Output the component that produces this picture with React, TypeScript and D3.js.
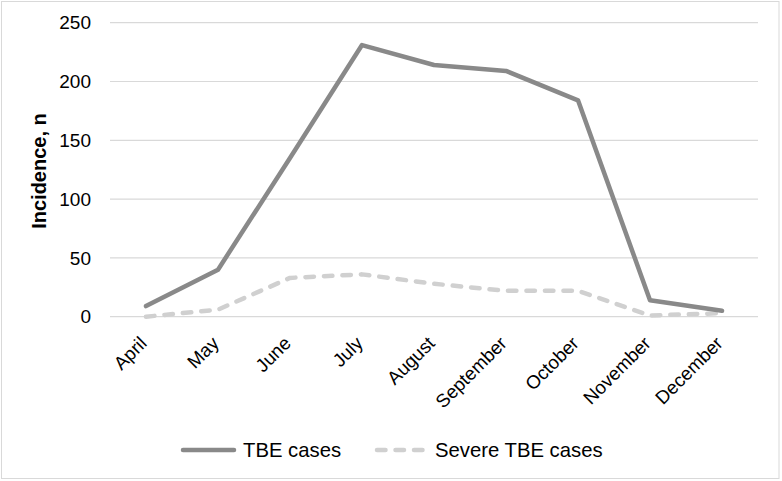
import React from "react";
import * as d3 from "d3";

const months = ["April", "May", "June", "July", "August", "September", "October", "November", "December"];
const tbeCases = [9, 40, 135, 231, 214, 209, 184, 14, 5];
const severeCases = [0, 6, 33, 36, 28, 22, 22, 1, 3];
const yTicks = [0, 50, 100, 150, 200, 250];
const seriesNames = ["TBE cases", "Severe TBE cases"];

const W = 782;
const H = 481;
const FONT = "'Liberation Sans', Arial, Helvetica, sans-serif";

export default function App() {
  const x = d3.scaleBand<string>().domain(months).range([110, 758]).padding(0);
  const y = d3.scaleLinear().domain([0, 250]).range([316.7, 22.7]);
  const cx = (m: string) => (x(m) as number) + x.bandwidth() / 2;

  const line = d3
    .line<number>()
    .x((_, i) => cx(months[i]))
    .y((d) => y(d));

  return (
    <svg
      width={W}
      height={H}
      style={{ position: "absolute", left: 0, top: 0, background: "#fff" }}
      fontFamily={FONT}
    >
      <rect x={1.5} y={1.5} width={777.5} height={477} fill="#fff" stroke="#d9d9d9" strokeWidth={1} />
      {yTicks.map((t) => (
        <g key={t}>
          <line x1={110} x2={758} y1={y(t)} y2={y(t)} stroke="#d9d9d9" strokeWidth={1.2} />
          <text x={91} y={y(t)} dy="0.35em" textAnchor="end" fontSize={19} fill="#000">
            {t}
          </text>
        </g>
      ))}
      <text
        transform={`translate(46,171) rotate(-90)`}
        textAnchor="middle"
        fontSize={20}
        fontWeight="bold"
        fill="#000"
      >
        Incidence, n
      </text>
      {months.map((m) => (
        <text
          key={m}
          transform={`translate(${cx(m) + 2},344.5) rotate(-45)`}
          textAnchor="end"
          fontSize={18.7}
          fill="#000"
        >
          {m}
        </text>
      ))}
      <path
        d={line(severeCases) || ""}
        fill="none"
        stroke="#d0d0d0"
        strokeWidth={4.5}
        strokeDasharray="8.5 10"
        strokeLinecap="round"
        strokeLinejoin="round"
      />
      <path
        d={line(tbeCases) || ""}
        fill="none"
        stroke="#898989"
        strokeWidth={4.5}
        strokeLinejoin="round"
        strokeLinecap="round"
      />
      <g>
        <line x1={183} x2={234} y1={450} y2={450} stroke="#898989" strokeWidth={4.5} strokeLinecap="round" />
        <text x={243} y={450} dy="0.35em" fontSize={20.3} fill="#000">
          {seriesNames[0]}
        </text>
        <line
          x1={377}
          x2={424}
          y1={450}
          y2={450}
          stroke="#d0d0d0"
          strokeWidth={4.5}
          strokeDasharray="8.5 10"
          strokeLinecap="round"
        />
        <text x={435} y={450} dy="0.35em" fontSize={20.3} fill="#000">
          {seriesNames[1]}
        </text>
      </g>
    </svg>
  );
}
